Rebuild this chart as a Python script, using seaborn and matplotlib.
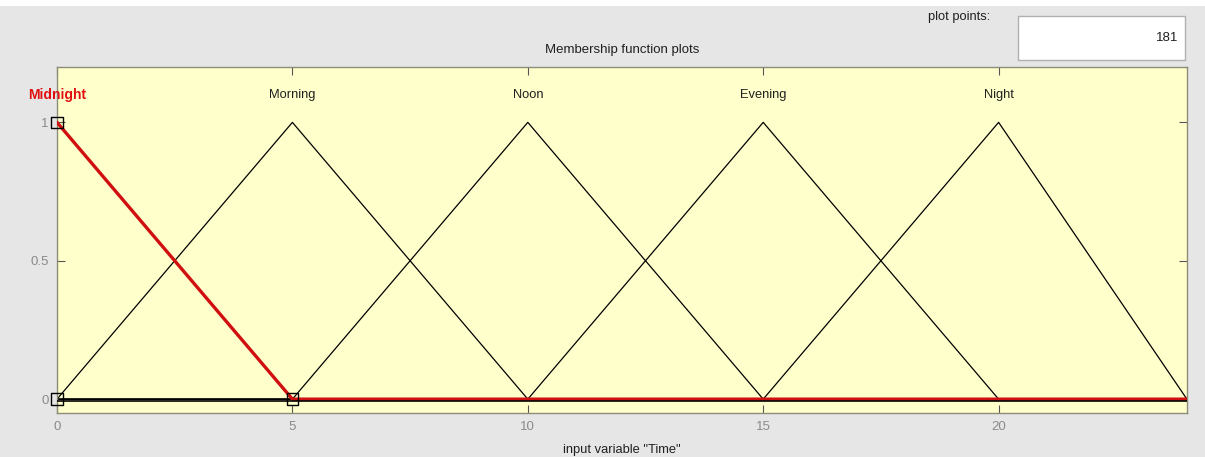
import matplotlib
matplotlib.use("Agg")
import matplotlib.pyplot as plt
import seaborn as sns
import pandas as pd
from matplotlib.patches import Rectangle

# membership functions of input "Time" (triangles a, b, c)
mf_names = ["Midnight", "Morning", "Noon", "Evening", "Night"]
mf_params = [[0, 0, 5], [0, 5, 10], [5, 10, 15], [10, 15, 20], [15, 20, 24]]
x_range = [0, 24]
selected = "Midnight"
plot_points = 181


def trimf(x, a, b, c):
    left = (x - a) / (b - a) if b > a else (1.0 if x >= a else 0.0)
    right = (c - x) / (c - b) if c > b else (1.0 if x <= c else 0.0)
    return max(min(left, right), 0.0)


sns.set_theme(style="white")
plt.rcParams["font.family"] = ["Liberation Sans", "DejaVu Sans"]

fig = plt.figure(figsize=(12.05, 4.57), dpi=100, facecolor="#e6e6e6")
ax = fig.add_axes([0.0473, 0.0963, 0.9377, 0.7571])
ax.set_facecolor("#ffffcc")

# thin white strip at the very top of the window
fig.patches.append(Rectangle((0, 0.987), 1, 0.013, transform=fig.transFigure,
                             facecolor="white", edgecolor="none", zorder=-1))

for name, (a, b, c) in zip(mf_names, mf_params):
    xs = [x_range[0], a, b, c, x_range[1]]
    ys = [trimf(x, a, b, c) for x in xs]
    df = pd.DataFrame({"x": xs, "y": ys})
    if name == selected:
        sns.lineplot(data=df, x="x", y="y", ax=ax, color="#d01010", lw=2.4,
                     sort=False, estimator=None, zorder=3)
        verts = pd.DataFrame({"x": [a, b, c], "y": [0, 1, 0]})
        sns.scatterplot(data=verts, x="x", y="y", ax=ax, marker="s", s=70,
                        facecolor="none", edgecolor="black", linewidth=1.0,
                        zorder=5, clip_on=False)
        ax.text(b, 1.1, name, color="#e01010", fontsize=10, fontweight="bold",
                ha="center", va="center")
    else:
        sns.lineplot(data=df, x="x", y="y", ax=ax, color="black", lw=0.9,
                     sort=False, estimator=None, zorder=2)
        ax.text(b, 1.1, name, color="#202020", fontsize=9.3,
                ha="center", va="center")

# black zero line from the other functions drawn just over the red one
ax.plot(x_range, [-0.006, -0.006], color="black", lw=1.2, zorder=4)

ax.set_xlim(x_range)
ax.set_ylim(-0.05, 1.2)
ax.set_xticks([0, 5, 10, 15, 20])
ax.set_yticks([0, 0.5, 1])
ax.set_yticklabels(["0", "0.5", "1"])
ax.tick_params(direction="in", length=6, width=0.8, color="#555555",
               labelsize=9.5, labelcolor="#8a8a8a", top=True, right=True,
               bottom=True, left=True, pad=6)
for s in ax.spines.values():
    s.set_color("#8c8c78")
    s.set_linewidth(1.0)

ax.set_xlabel('input variable "Time"', fontsize=9.3, color="#202020", labelpad=8)
ax.set_ylabel("")
ax.set_title("Membership function plots", fontsize=9.5, color="#202020", pad=10)

# plot points box
fig.patches.append(Rectangle((0.845, 0.869), 0.138, 0.096, transform=fig.transFigure,
                             facecolor="white", edgecolor="#b0b0b0", lw=1))
fig.text(0.978, 0.917, str(plot_points), fontsize=9.5, ha="right", va="center",
         color="#202020")
fig.text(0.822, 0.963, "plot points:", fontsize=9.3, ha="right", va="center",
         color="#202020")

fig.savefig("out.png", dpi=100, facecolor=fig.get_facecolor())
